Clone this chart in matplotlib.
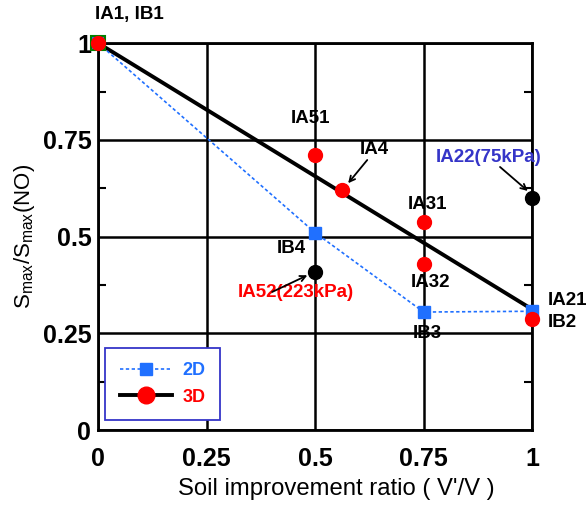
import matplotlib.pyplot as plt
from matplotlib.lines import Line2D

plt.rcParams['font.family'] = ['Liberation Sans', 'DejaVu Sans']

# 2D analysis (blue squares, dashed)
x_2d = [0, 0.5, 0.75, 1.0]
y_2d = [1.0, 0.51, 0.305, 0.307]

# 3D analysis: red points and the fitted line
x_3d = [0, 0.5, 0.562, 0.75, 0.75, 1.0]
y_3d = [1.0, 0.711, 0.62, 0.537, 0.43, 0.287]
x_fit = [0, 1.0]
y_fit = [1.0, 0.312]

# black points (different load)
x_blk = [0.5, 1.0]
y_blk = [0.408, 0.60]

fig = plt.figure(figsize=(5.88, 5.08), dpi=100)
ax = fig.add_axes([0.167, 0.1535, 0.738, 0.7615])

ax.set_xlim(0, 1)
ax.set_ylim(0, 1)
ticks = [0, 0.25, 0.5, 0.75, 1]
tick_labels = ['0', '0.25', '0.5', '0.75', '1']
ax.set_xticks(ticks)
ax.set_xticklabels(tick_labels)
ax.set_yticks(ticks)
ax.set_yticklabels(tick_labels)
ax.set_yticks([0.125, 0.375, 0.625, 0.875], minor=True)
ax.grid(True, color='black', linewidth=1.8)
ax.tick_params(axis='both', which='both', direction='in', right=True,
               labelsize=18, width=1.5)
ax.tick_params(axis='x', pad=12)
ax.tick_params(axis='y', pad=5)
ax.tick_params(which='major', length=0)
ax.tick_params(which='minor', length=6)
for lab in ax.get_xticklabels() + ax.get_yticklabels():
    lab.set_fontweight('bold')
for s in ax.spines.values():
    s.set_linewidth(2)

ax.plot(x_fit, y_fit, color='black', linewidth=2.8, zorder=3, clip_on=False)
ax.plot(x_2d, y_2d, color='#2070ff', linestyle=(0, (2, 1.5)), linewidth=1.2,
        marker='s', markersize=8, zorder=4, clip_on=False)
ax.plot([0], [1.0], marker='s', markersize=10, color='#2070ff',
        markeredgecolor='green', markeredgewidth=1.5, zorder=4, clip_on=False)
ax.plot(x_3d, y_3d, linestyle='none', marker='o', markersize=10,
        color='#ff0000', zorder=5, clip_on=False)
ax.plot(x_blk, y_blk, linestyle='none', marker='o', markersize=10,
        color='black', zorder=5, clip_on=False)

lkw = dict(fontsize=13.5, fontweight='bold', va='center')
ax.text(-0.008, 1.075, 'IA1, IB1', ha='left', **lkw)
ax.text(0.49, 0.805, 'IA51', ha='center', **lkw)
ax.text(0.758, 0.584, 'IA31', ha='center', **lkw)
ax.text(0.765, 0.382, 'IA32', ha='center', **lkw)
ax.text(0.758, 0.25, 'IB3', ha='center', **lkw)
ax.text(0.445, 0.47, 'IB4', ha='center', **lkw)
ax.text(1.037, 0.336, 'IA21', ha='left', **lkw)
ax.text(1.037, 0.277, 'IB2', ha='left', **lkw)
ax.text(0.636, 0.724, 'IA4', ha='center', **lkw)
ax.text(0.9, 0.705, 'IA22(75kPa)', ha='center', color='#3535c8', **lkw)
ax.text(0.456, 0.355, 'IA52(223kPa)', ha='center', color='#ff0000', **lkw)

arrow = dict(arrowstyle='->', color='black', lw=1.3, shrinkA=0, shrinkB=0)
ax.annotate('', xy=(0.576, 0.638), xytext=(0.62, 0.698), arrowprops=arrow)
ax.annotate('', xy=(0.99, 0.618), xytext=(0.926, 0.68), arrowprops=arrow)
ax.annotate('', xy=(0.482, 0.40), xytext=(0.401, 0.357), arrowprops=arrow)

ax.set_xlabel("Soil improvement ratio ( V'/V )", fontsize=17.2, va='center')
ax.xaxis.set_label_coords(0.548, -0.152)
ax.set_ylabel(r'S$_{\mathregular{max}}$/S$_{\mathregular{max}}$(NO)', fontsize=16,
              labelpad=4)

handles = [
    Line2D([], [], color='#2070ff', linestyle=(0, (2, 1.5)), linewidth=1.2,
           marker='s', markersize=8),
    Line2D([], [], color='black', linewidth=2.8, marker='o', markersize=12,
           markerfacecolor='#ff0000', markeredgecolor='#ff0000'),
]
leg = ax.legend(handles, ['2D', '3D'], loc='lower left',
                bbox_to_anchor=(0.016, 0.026), borderaxespad=0, frameon=True,
                fancybox=False, edgecolor='#3535c8', framealpha=1,
                handlelength=2.9, handletextpad=0.6, borderpad=0.8,
                labelspacing=0.5, prop=dict(weight='bold', size=13))
leg.get_frame().set_linewidth(1.3)
leg.get_texts()[0].set_color('#2070ff')
leg.get_texts()[1].set_color('#ff0000')

fig.savefig('out.png', dpi=100)
